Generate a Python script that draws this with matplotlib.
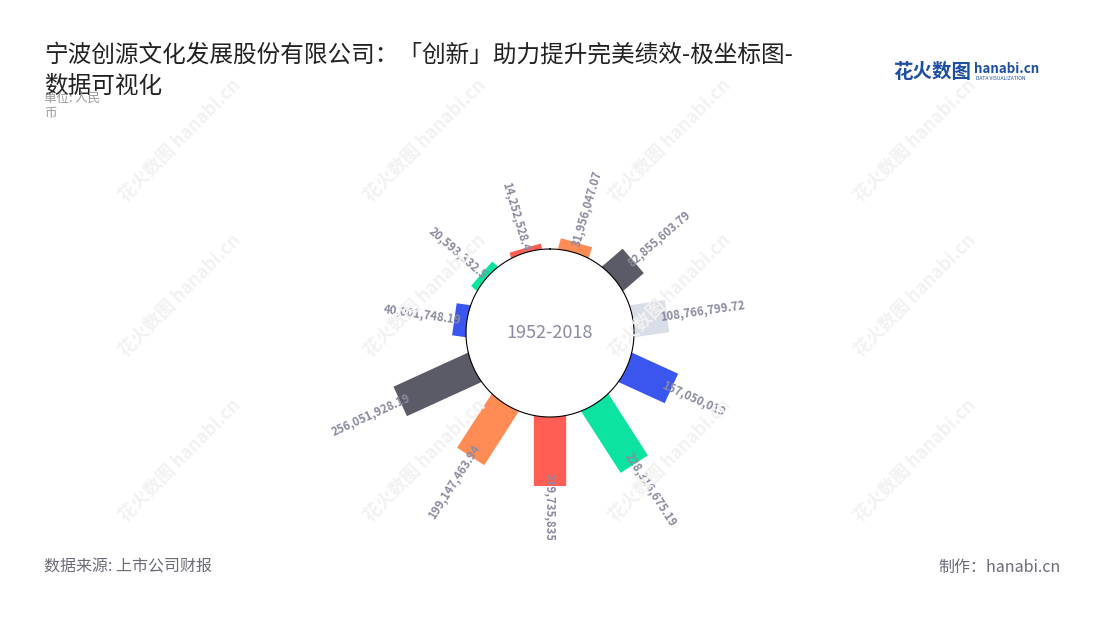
import matplotlib
matplotlib.use("Agg")
import matplotlib.pyplot as plt
import numpy as np
from matplotlib.transforms import Bbox, TransformedBbox

plt.rcParams['font.family'] = ['Noto Sans CJK SC', 'DejaVu Sans']

# 数据 (顺时针, 从正上方开始)
labels = ["31,956,047.07", "82,855,603.79", "108,766,799.72", "157,050,019",
          "228,316,675.19", "219,735,835.0", "199,147,463.94", "256,051,928.19",
          "40,001,748.19", "20,593,332.5", "14,252,528.4"]
values = [31956047.07, 82855603.79, 108766799.72, 157050019,
          228316675.19, 219735835.0, 199147463.94, 256051928.19,
          40001748.19, 20593332.5, 14252528.4]
colors = ["#ff8c55", "#5a5b66", "#d9dde8", "#3a56ee", "#0ce3a0", "#ff5e55",
          "#ff8c55", "#5a5b66", "#3a56ee", "#0ce3a0", "#ff5e55"]
center_text = "1952-2018"

W, H = 1100, 620
fig = plt.figure(figsize=(W / 100, H / 100), dpi=100)

# 极坐标轴: 中心 (550, 333), 半径 178.5px, 内圈 84px
cx, cy, R = 550, 333, 178.5
ax = fig.add_axes([(cx - R) / W, (H - cy - R) / H, 2 * R / W, 2 * R / H],
                  projection='polar')
rmax = 300e6
rorig = -266.7e6
ax.set_theta_zero_location('N')
ax.set_theta_direction(-1)
ax.set_ylim(0, rmax)
ax.set_rorigin(rorig)
ax.set_axis_off()

n = len(values)
thetas = (np.arange(n) + 0.5) * 2 * np.pi / n
px_per_unit = (R - 84) / (rmax - 0)

for th, v, c in zip(thetas, values, colors):
    ax.plot([th, th], [rorig * 0.5, v], color=c, lw=23.3,
            solid_capstyle='butt', zorder=2)

# 内圈
tt = np.linspace(0, 2 * np.pi, 400)
ax.plot(tt, np.zeros_like(tt), color='black', lw=0.8, zorder=5, clip_on=False)
ax.text(0, rorig, center_text, ha='center', va='center', fontsize=13,
        color='#8a8ba0', zorder=6)

clipbox = TransformedBbox(Bbox.from_extents(0, 80 / H, 1, 1), fig.transFigure)
for th, v, lab in zip(thetas, values, labels):
    deg = np.degrees(th)
    off = (3 + 5 * (1 - np.cos(th))) / px_per_unit
    if deg <= 180.5:
        rot, ha = 90 - deg, 'left'
    else:
        rot, ha = 270 - deg, 'right'
    t = ax.text(th, v - off, lab, rotation=rot, rotation_mode='anchor',
                ha=ha, va='center', fontsize=8.2, color='#8a8ba0',
                fontweight='bold', zorder=7)
    t.set_clip_path(None)
    t.set_clip_on(True)
    t.set_clip_box(clipbox)

# 水印
for wy in [140, 295, 460]:
    for wx in [180, 425, 670, 915]:
        fig.text(wx / W, 1 - wy / H, "花火数图 hanabi.cn", rotation=45,
                 ha='center', va='center', fontsize=13, color='#f2f2f2',
                 fontweight='bold', zorder=0)

# 标题
fig.text(44 / W, 1 - 55 / H, "宁波创源文化发展股份有限公司：「创新」助力提升完美绩效-极坐标图-",
         fontsize=17, color='#222222', ha='left', va='center')
fig.text(44 / W, 1 - 86 / H, "数据可视化", fontsize=17, color='#222222',
         ha='left', va='center')
fig.text(44 / W, 1 - 98 / H, "单位: 人民", fontsize=9, color='#999999',
         ha='left', va='center')
fig.text(44 / W, 1 - 113 / H, "币", fontsize=9, color='#999999',
         ha='left', va='center')

# logo
fig.text(893 / W, 1 - 72 / H, "花火数图", fontsize=14, color='#1e4fa3',
         fontweight='bold', ha='left', va='center')
fig.text(974 / W, 1 - 69 / H, "hanabi.cn", fontsize=9.6, color='#1e4fa3',
         fontweight='bold', ha='left', va='center')
fig.text(976 / W, 1 - 79 / H, "DATA VISUALIZATION", fontsize=3.6,
         color='#1e4fa3', ha='left', va='center')

# 底部
fig.text(44 / W, 1 - 567 / H, "数据来源: 上市公司财报", fontsize=11.5,
         color='#6b6b78', ha='left', va='center')
fig.text(1061 / W, 1 - 567 / H, "制作：hanabi.cn", fontsize=11.5,
         color='#6b6b78', ha='right', va='center')

fig.savefig('out.png', dpi=100)
